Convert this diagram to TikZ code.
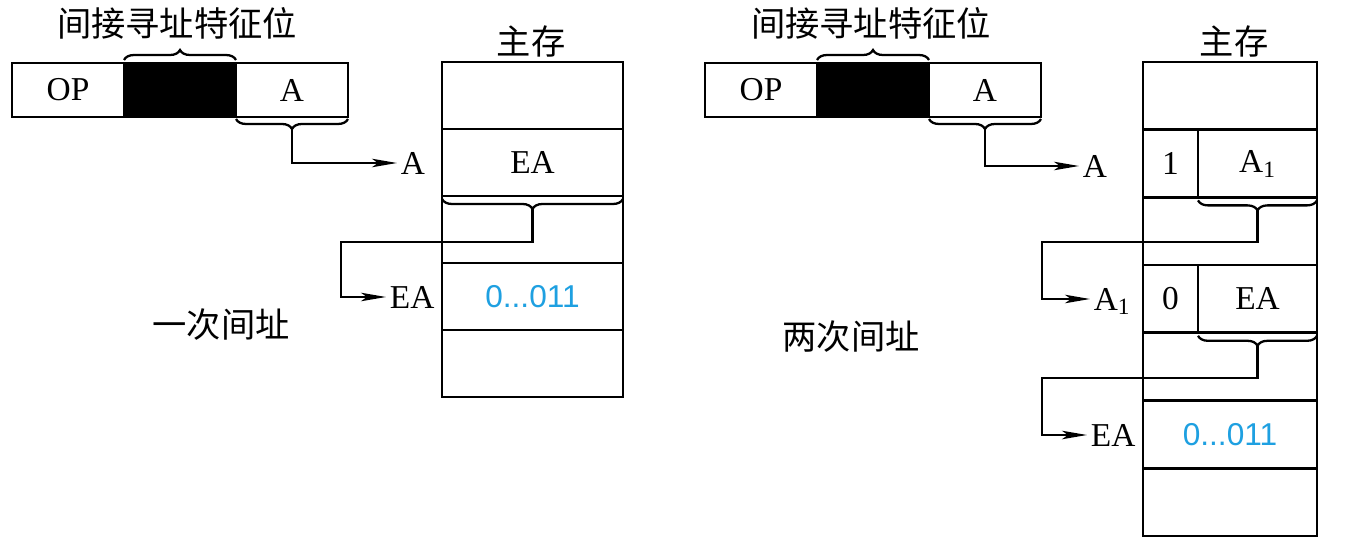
\documentclass[tikz,border=0pt]{standalone}
\usepackage{fontspec}
\setmainfont{Liberation Serif}
\setsansfont{Liberation Sans}
\newfontfamily\cjk{Noto Sans CJK SC}
\usetikzlibrary{arrows.meta,decorations.pathreplacing,calc}

\definecolor{numblue}{RGB}{30,160,225}

\begin{document}
\begin{tikzpicture}[x=0.02cm, y=-0.02cm]

\tikzset{mycell/.style={draw=black, line width=1.5pt, inner sep=0pt, outer sep=0pt, font=\fontsize{19}{22}\selectfont}}
\tikzset{myinstr/.style={mycell, minimum width=2.24cm, minimum height=1.08cm}}
\tikzset{mylabel/.style={anchor=west, inner sep=2pt, text depth=0pt, font=\fontsize{19}{22}\selectfont}}
\tikzset{mycjk/.style={font=\cjk\fontsize{19.5}{23}\selectfont}}
\tikzset{mybrace/.style={decorate, decoration={brace, amplitude=0.2cm}, line width=1.3pt}}
\tikzset{myarrow/.style={-{Stealth[length=0.5cm, width=0.17cm, inset=0.12cm]}, line width=1.3pt}}
\tikzset{mynum/.style={text=numblue, font=\sffamily\fontsize{18}{21}\selectfont}}

\useasboundingbox (0,0) rectangle (1369,547);
\fill[white] (0,0) rectangle (1369,547);

% one indirection
\node[mycjk] (title1) at (177,23) {间接寻址特征位};
\node[myinstr] (op1) at (68,90) {OP};
\node[myinstr, fill=black] (bit1) at (180,90) {};
\node[myinstr] (a1) at (292,90) {A};
\draw[mybrace] ($(bit1.north west)+(0,-3)$) -- ($(bit1.north east)+(0,-3)$);
\draw[mybrace] ($(a1.south east)+(0,2)$) -- ($(a1.south west)+(0,2)$);
\coordinate (t1) at ($(a1.south)+(0,12)$);

\node[mycjk] (mem1) at (531,41) {主存};
\node[mycell, minimum width=3.62cm, minimum height=1.34cm] (m1) at (532.5,95.5) {};
\node[mycell, minimum width=3.62cm, minimum height=1.34cm] (m2) at (532.5,162.5) {EA};
\node[mycell, minimum width=3.62cm, minimum height=1.34cm] (m3) at (532.5,229.5) {};
\node[mycell, minimum width=3.62cm, minimum height=1.34cm, mynum] (m4) at (532.5,296.5) {0...011};
\node[mycell, minimum width=3.62cm, minimum height=1.34cm] (m5) at (532.5,363.5) {};
\draw[mybrace] ($(m2.south east)+(0,3)$) -- ($(m2.south west)+(0,3)$);
\coordinate (t2) at ($(m2.south)+(0,13)$);

\node[mylabel] (lA1) at (397,163) {A};
\node[mylabel] (lEA1) at (386,297) {EA};
\coordinate (k1) at (341,242);
\draw[myarrow] (t1) |- (lA1.west);
\draw[myarrow] (t2) |- (k1) |- (lEA1.west);
\node[mycjk] (cap1) at (221,325) {一次间址};

% two indirections
\node[mycjk] (title2) at (871,23) {间接寻址特征位};
\node[myinstr] (op2) at (761,90) {OP};
\node[myinstr, fill=black] (bit2) at (873,90) {};
\node[myinstr] (a2) at (985,90) {A};
\draw[mybrace] ($(bit2.north west)+(0,-3)$) -- ($(bit2.north east)+(0,-3)$);
\draw[mybrace] ($(a2.south east)+(0,2)$) -- ($(a2.south west)+(0,2)$);
\coordinate (t3) at ($(a2.south)+(0,12)$);

\node[mycjk] (mem2) at (1234,41) {主存};
\node[mycell, minimum width=3.48cm, minimum height=1.354cm] (r1) at (1230,95.85) {};
\node[mycell, minimum width=1.1cm, minimum height=1.354cm] (r2a) at (1170.5,163.55) {1};
\node[mycell, minimum width=2.38cm, minimum height=1.354cm] (r2b) at (1257.5,163.55) {A\textsubscript{1}};
\node[mycell, minimum width=3.48cm, minimum height=1.354cm] (r3) at (1230,231.25) {};
\node[mycell, minimum width=1.1cm, minimum height=1.354cm] (r4a) at (1170.5,298.95) {0};
\node[mycell, minimum width=2.38cm, minimum height=1.354cm] (r4b) at (1257.5,298.95) {EA};
\node[mycell, minimum width=3.48cm, minimum height=1.354cm] (r5) at (1230,366.65) {};
\node[mycell, minimum width=3.48cm, minimum height=1.354cm, mynum] (r6) at (1230,434.35) {0...011};
\node[mycell, minimum width=3.48cm, minimum height=1.354cm] (r7) at (1230,502.05) {};
\draw[mybrace] ($(r2b.south east)+(0,3)$) -- ($(r2b.south west)+(0,3)$);
\coordinate (t4) at ($(r2b.south)+(0,13)$);
\draw[mybrace] ($(r4b.south east)+(0,3)$) -- ($(r4b.south west)+(0,3)$);
\coordinate (t5) at ($(r4b.south)+(0,13)$);

\node[mylabel] (lA2) at (1079,166) {A};
\node[mylabel] (lA3) at (1090,299) {A\textsubscript{1}};
\node[mylabel] (lEA2) at (1087,435) {EA};
\coordinate (k2) at (1042,242);
\coordinate (k3) at (1042,378);
\draw[myarrow] (t3) |- (lA2.west);
\draw[myarrow] (t4) |- (k2) |- (lA3.west);
\draw[myarrow] (t5) |- (k3) |- (lEA2.west);
\node[mycjk] (cap2) at (851,337) {两次间址};

\end{tikzpicture}
\end{document}
